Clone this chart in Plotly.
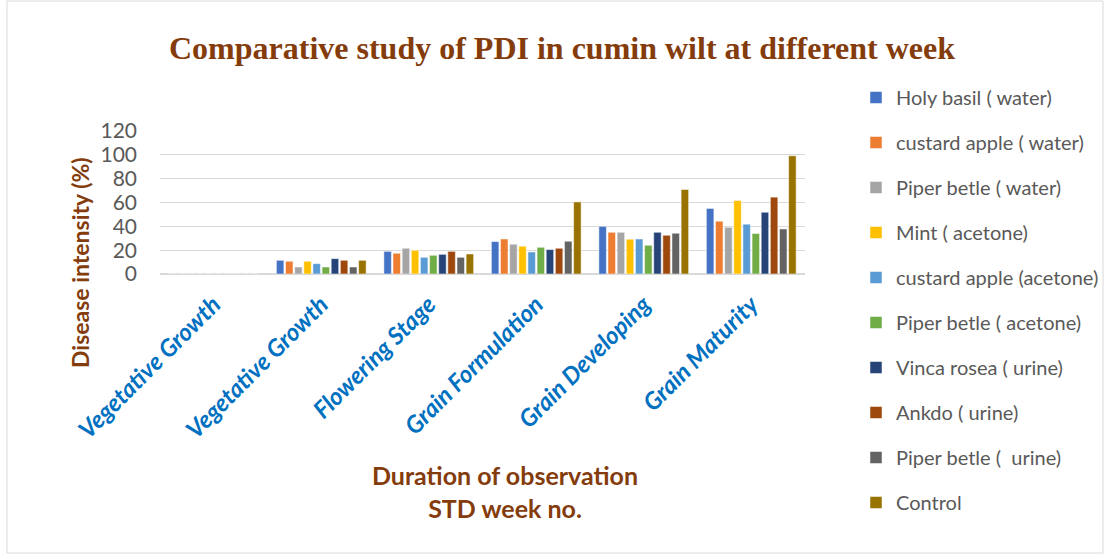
import plotly.graph_objects as go

weeks = [1, 2, 3, 4, 5, 6]
stages = ["Vegetative Growth", "Vegetative Growth", "Flowering Stage",
          "Grain Formulation", "Grain Developing", "Grain Maturity"]

treatments = ["Holy basil ( water)", "custard apple ( water)", "Piper betle ( water)",
              "Mint ( acetone)", "custard apple (acetone)", "Piper betle ( acetone)",
              "Vinca rosea ( urine)", "Ankdo ( urine)", "Piper betle (  urine)", "Control"]

holy_basil_water = [0, 11.5, 19.0, 27.2, 40.0, 55.0]
custard_apple_water = [0, 10.7, 17.4, 29.4, 35.0, 44.3]
piper_betle_water = [0, 5.9, 21.6, 25.0, 35.0, 39.2]
mint_acetone = [0, 10.7, 19.9, 23.3, 29.2, 61.7]
custard_apple_acetone = [0, 8.7, 14.0, 18.5, 29.4, 41.8]
piper_betle_acetone = [0, 5.9, 15.7, 22.4, 24.1, 34.0]
vinca_rosea_urine = [0, 12.9, 16.5, 20.5, 35.0, 51.8]
ankdo_urine = [0, 11.5, 19.0, 21.6, 32.5, 64.5]
piper_betle_urine = [0, 5.9, 14.0, 27.5, 34.2, 37.8]
control = [0, 11.5, 16.8, 60.5, 70.9, 99.2]

series = [holy_basil_water, custard_apple_water, piper_betle_water, mint_acetone,
          custard_apple_acetone, piper_betle_acetone, vinca_rosea_urine,
          ankdo_urine, piper_betle_urine, control]
colors = ["#4472C4", "#ED7D31", "#A5A5A5", "#FFC000", "#5B9BD5",
          "#70AD47", "#264478", "#9E480E", "#636363", "#997300"]

brown = "#843C0C"
grey_text = "#595959"

# plot area in pixels (left, right, top, bottom)
L, R, T, B = 160, 805, 131, 274
W, H = R - L, B - T

fig = go.Figure()
for name, vals, col in zip(treatments, series, colors):
    fig.add_trace(
        go.Bar(
            x=weeks,
            y=vals,
            name=name,
            legendgroup=name,
            marker=dict(color=col, line=dict(color="white", width=0.5)),
        )
    )

fig.update_layout(
    width=1104,
    height=556,
    barmode="group",
    bargap=0.15,
    bargroupgap=0.18,
    plot_bgcolor="white",
    paper_bgcolor="white",
    margin=dict(l=L, r=1104 - R, t=T, b=556 - B, autoexpand=False),
    font=dict(family="Lato, Open Sans, sans-serif", color=grey_text),
    title=dict(
        text="<b>Comparative study of PDI in cumin wilt at different week</b>",
        font=dict(family="Liberation Serif, Times New Roman, serif", size=32, color=brown),
        x=562 / 1104,
        xref="container",
        xanchor="center",
        y=1 - 48 / 556,
        yref="container",
        yanchor="middle",
    ),
    legend=dict(
        x=(856 - L) / W,
        xanchor="left",
        y=(B - 78) / H,
        yanchor="top",
        font=dict(size=20, color=grey_text),
        tracegroupgap=16,
        itemwidth=30,
        maxheight=600,
        bgcolor="rgba(0,0,0,0)",
    ),
    showlegend=True,
)

fig.update_xaxes(
    tickmode="array",
    tickvals=weeks,
    ticktext=["<b><i>%s</i></b>" % s for s in stages],
    tickangle=-45,
    tickfont=dict(size=24, color="#0070C0", family="Lato, Open Sans, sans-serif"),
    range=[0.5, 6.5],
    showline=True,
    linecolor="#D9D9D9",
    linewidth=1,
    ticks="",
    ticklabelstandoff=6,
    automargin=False,
)
fig.update_yaxes(
    range=[0, 120],
    dtick=20,
    gridcolor="#D9D9D9",
    gridwidth=1.3,
    zeroline=True,
    zerolinecolor="#D9D9D9",
    tickfont=dict(size=21, color=grey_text),
    ticks="",
    ticklabelstandoff=22,
    automargin=False,
)

fig.add_annotation(
    text="<b>Disease intensity (%)</b>",
    xref="paper", yref="paper",
    x=(80 - L) / W, y=(B - 263) / H,
    xanchor="center", yanchor="middle",
    textangle=-90, showarrow=False,
    font=dict(size=23, color=brown),
)
fig.add_annotation(
    text="<b>Duration of observation<br>STD week no.</b>",
    xref="paper", yref="paper",
    x=(505 - L) / W, y=(B - 491) / H,
    xanchor="center", yanchor="middle",
    showarrow=False, align="center",
    font=dict(size=25, color=brown),
)

fig.add_shape(
    type="rect", xref="paper", yref="paper",
    x0=(7 - L) / W, x1=(1103 - L) / W,
    y0=(B - 553) / H, y1=(B - 1) / H,
    line=dict(color="#D9D9D9", width=1),
)

fig.write_html(
    "out.html",
    config={"displayModeBar": False},
    post_script="document.body.style.margin='0';",
)
